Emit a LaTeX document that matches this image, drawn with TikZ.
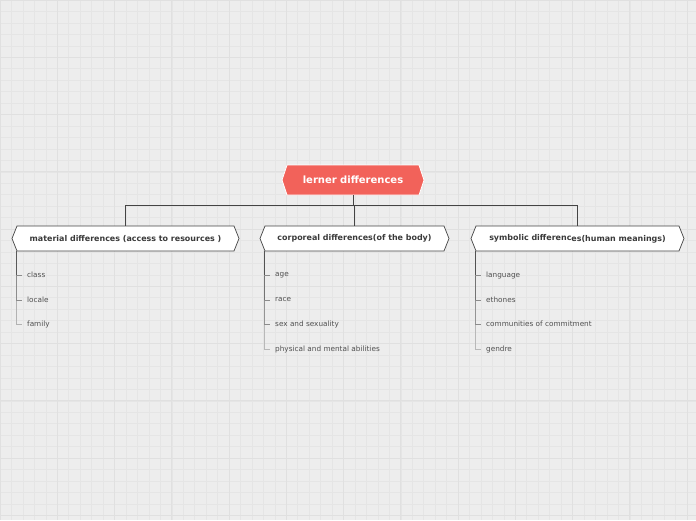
\documentclass[tikz,border=0pt]{standalone}
\usepackage{fontspec}
\setmainfont{DejaVu Sans}
\usetikzlibrary{calc}
\definecolor{bg}{HTML}{EDEDED}
\definecolor{gridminor}{HTML}{E5E5E5}
\definecolor{gridmajor}{HTML}{E0E0E0}
\definecolor{rootred}{HTML}{F2625A}
\definecolor{edge}{HTML}{444444}
\definecolor{titletext}{HTML}{3A3A3A}
\definecolor{leaftext}{HTML}{505050}
\tikzset{
  hexbase/.style={draw=none, inner sep=0pt, outer sep=0pt},
  rootbox/.style={hexbase, minimum width=142pt, minimum height=30pt, text=white,
    font=\fontsize{10}{12}\selectfont\bfseries},
  topicbox/.style={hexbase, minimum height=25pt, text=titletext,
    font=\fontsize{7.95}{9}\selectfont\bfseries},
  leaf/.style={anchor=west, inner sep=0pt, text=leaftext, font=\fontsize{7.3}{8}\selectfont},
  conn/.style={draw=edge, line width=0.9pt},
  tick/.style={draw=black!45, line width=0.6pt},
}
\newcommand\hexoutline[3]{% name, depth, style
  \path[#3] (#1.west) -- ([xshift=#2]#1.north west) -- ([xshift=-#2]#1.north east)
    -- (#1.east) -- ([xshift=-#2]#1.south east) -- ([xshift=#2]#1.south west) -- cycle;}
\begin{document}
\begin{tikzpicture}[x=1pt,y=-1pt]
\useasboundingbox (0,0) rectangle (696,520);
\fill[bg] (0,0) rectangle (696,520);
% grid
\foreach \i in {0,...,61} {
  \pgfmathsetmacro\xx{\i*11.45}
  \draw[gridminor, line width=0.5pt] (\xx,0) -- (\xx,520);
}
\foreach \i in {0,...,46} {
  \pgfmathsetmacro\yy{\i*11.45}
  \draw[gridminor, line width=0.5pt] (0,\yy) -- (696,\yy);
}
\foreach \i in {0,...,12} {
  \pgfmathsetmacro\xx{\i*57.25}
  \draw[gridmajor, line width=0.7pt] (\xx,0) -- (\xx,520);
}
\foreach \i in {0,...,9} {
  \pgfmathsetmacro\yy{\i*57.25}
  \draw[gridmajor, line width=0.7pt] (0,\yy) -- (696,\yy);
}

% root
\node[rootbox] (root) at (353,180) {};
\hexoutline{root}{5pt}{fill=rootred, draw=white, line width=0.8pt}
\node[rootbox] at (root.center) {lerner differences};

% topics
\node[topicbox, minimum width=227pt] (t1) at (125.5,238.5) {};
\node[topicbox, minimum width=189pt] (t2) at (354.5,238.5) {};
\node[topicbox, minimum width=213pt] (t3) at (577.5,238.5) {};
\foreach \n in {t1,t2,t3} {\hexoutline{\n}{5pt}{fill=white, draw=edge, line width=0.7pt}}
\node[topicbox] at (t1.center) {material differences (access to resources )};
\node[topicbox] at (t2.center) {corporeal differences(of the body)};
\node[topicbox] at (t3.center) {symbolic differenc\raisebox{-0.9pt}{es(human meanings)}};

% connectors
\coordinate (bus) at ($(root.south)+(0,10)$);
\draw[conn] (root.south) -- (bus);
\draw[conn] (bus) -| (t1.north);
\draw[conn] (bus) -| (t3.north);
\draw[conn] (bus -| t2.north) -- (t2.north);

% leaves: topic 1
\coordinate (s1) at ($(t1.south west)+(4,0)$);
\node[leaf] (l11) at (27,275) {class};
\node[leaf] (l12) at (27,300) {locale};
\node[leaf] (l13) at (27,324) {family};
\draw[line width=1pt, draw=black!65] (s1) -- (s1 |- l11.west);
\draw[line width=1pt, draw=black!45] (s1 |- l11.west) -- (s1 |- l12.west);
\draw[line width=0.8pt, draw=black!30] (s1 |- l12.west) -- (s1 |- l13.west) -- ($(l13.west)+(-5.5,0)$);
\draw[tick] (s1 |- l11.west) -- ($(l11.west)+(-5.5,0)$);
\draw[tick] (s1 |- l12.west) -- ($(l12.west)+(-5.5,0)$);

% leaves: topic 2
\coordinate (s2) at ($(t2.south west)+(4,0)$);
\node[leaf] (l21) at (275,275) {age};
\node[leaf] (l22) at (275,300) {race};
\node[leaf] (l23) at (275,324) {sex and sexuality};
\node[leaf] (l24) at (275,349) {physical and mental abilities};
\draw[line width=1pt, draw=black!68] (s2) -- (s2 |- l21.west);
\draw[line width=1pt, draw=black!55] (s2 |- l21.west) -- (s2 |- l22.west);
\draw[line width=0.9pt, draw=black!42] (s2 |- l22.west) -- (s2 |- l23.west);
\draw[line width=0.8pt, draw=black!28] (s2 |- l23.west) -- (s2 |- l24.west) -- ($(l24.west)+(-5.5,0)$);
\draw[tick] (s2 |- l21.west) -- ($(l21.west)+(-5.5,0)$);
\draw[tick] (s2 |- l22.west) -- ($(l22.west)+(-5.5,0)$);
\draw[tick] (s2 |- l23.west) -- ($(l23.west)+(-5.5,0)$);

% leaves: topic 3
\coordinate (s3) at ($(t3.south west)+(4,0)$);
\node[leaf] (l31) at (486,275) {language};
\node[leaf] (l32) at (486,300) {ethones};
\node[leaf] (l33) at (486,324) {communities of commitment};
\node[leaf] (l34) at (486,349) {gendre};
\draw[line width=1pt, draw=black!68] (s3) -- (s3 |- l31.west);
\draw[line width=1pt, draw=black!55] (s3 |- l31.west) -- (s3 |- l32.west);
\draw[line width=0.9pt, draw=black!42] (s3 |- l32.west) -- (s3 |- l33.west);
\draw[line width=0.8pt, draw=black!28] (s3 |- l33.west) -- (s3 |- l34.west) -- ($(l34.west)+(-5.5,0)$);
\draw[tick] (s3 |- l31.west) -- ($(l31.west)+(-5.5,0)$);
\draw[tick] (s3 |- l32.west) -- ($(l32.west)+(-5.5,0)$);
\draw[tick] (s3 |- l33.west) -- ($(l33.west)+(-5.5,0)$);
\end{tikzpicture}
\end{document}
